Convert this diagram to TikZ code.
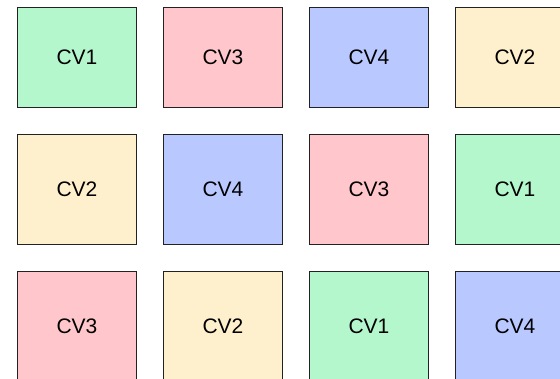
\documentclass[tikz,border=0pt]{standalone}
\usepackage{fontspec}
\setmainfont{Liberation Sans}
\usetikzlibrary{positioning}
\definecolor{cvgreen}{HTML}{B5F7CD}
\definecolor{cvpink}{HTML}{FFC7CC}
\definecolor{cvblue}{HTML}{B9C9FF}
\definecolor{cvyellow}{HTML}{FFF0CD}
\definecolor{edge}{HTML}{222222}

\begin{document}
\begin{tikzpicture}[
  node distance=27pt,
  cell/.style={draw=edge, line width=0.9pt, minimum width=119pt,
               inner sep=0pt, outer sep=0pt,
               font=\fontsize{21}{25}\selectfont},
  short/.style={cell, minimum height=100pt},
  tall/.style={cell, minimum height=110pt},
  cvone/.style={fill=cvgreen},
  cvtwo/.style={fill=cvyellow},
  cvthree/.style={fill=cvpink},
  cvfour/.style={fill=cvblue}
]
  \useasboundingbox (0,0) rectangle (560pt,-379pt);
  \clip (0,0) rectangle (560pt,-379pt);

  % first row
  \node[short, cvone, anchor=north west] (r1c1) at (17.5pt,-7pt) {CV1};
  \node[short, cvthree, right=of r1c1] (r1c2) {CV3};
  \node[short, cvfour, right=of r1c2] (r1c3) {CV4};
  \node[short, cvtwo, right=of r1c3] (r1c4) {CV2};

  % second row
  \node[tall, cvtwo, below=of r1c1] (r2c1) {CV2};
  \node[tall, cvfour, right=of r2c1] (r2c2) {CV4};
  \node[tall, cvthree, right=of r2c2] (r2c3) {CV3};
  \node[tall, cvone, right=of r2c3] (r2c4) {CV1};

  % third row
  \node[tall, cvthree, below=of r2c1] (r3c1) {CV3};
  \node[tall, cvtwo, right=of r3c1] (r3c2) {CV2};
  \node[tall, cvone, right=of r3c2] (r3c3) {CV1};
  \node[tall, cvfour, right=of r3c3] (r3c4) {CV4};
\end{tikzpicture}
\end{document}
